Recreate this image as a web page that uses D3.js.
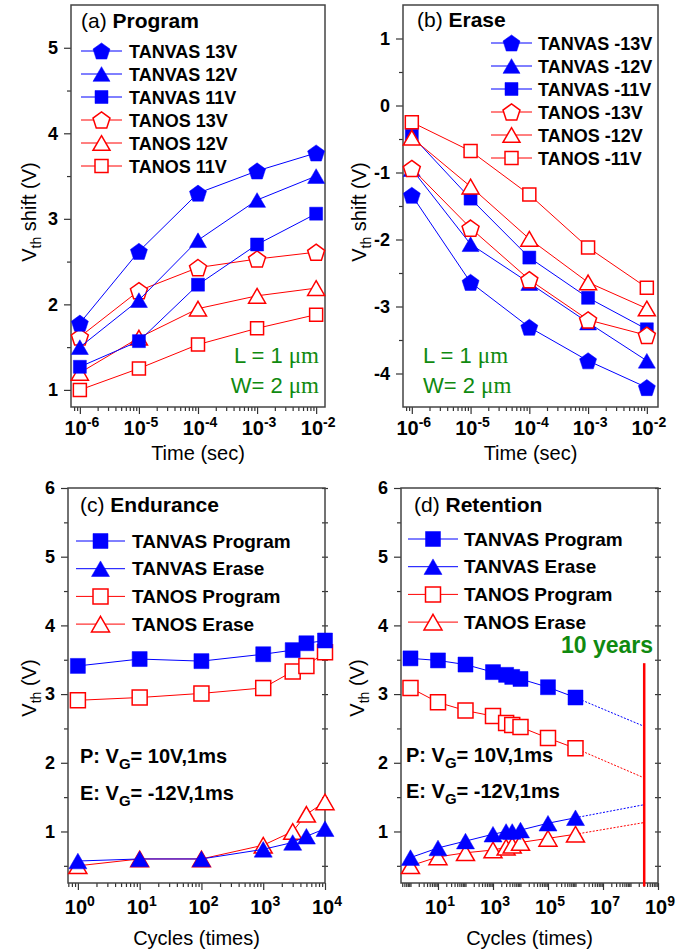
<!DOCTYPE html>
<html>
<head>
<meta charset="utf-8">
<script src="https://cdn.jsdelivr.net/npm/d3@7"></script>
<style>
  body { margin: 0; background: #fff; }
  svg { display: block; font-family: "Liberation Sans", Arial, sans-serif; }
</style>
</head>
<body>
<div id="chart"></div>
<script>
// ---- (a) Program : Vth shift vs time ----
const timeSec = [1e-6, 1e-5, 1e-4, 1e-3, 1e-2];
const progTanvas13 = [1.78, 2.62, 3.30, 3.56, 3.77];
const progTanvas12 = [1.50, 2.05, 2.75, 3.22, 3.50];
const progTanvas11 = [1.27, 1.57, 2.23, 2.70, 3.06];
const progTanos13 = [1.62, 2.16, 2.43, 2.53, 2.61];
const progTanos12 = [1.20, 1.61, 1.95, 2.10, 2.19];
const progTanos11 = [1.00, 1.25, 1.53, 1.72, 1.88];

// ---- (b) Erase ----
const eraseTanvas13 = [-1.34, -2.64, -3.31, -3.81, -4.21];
const eraseTanvas12 = [-0.95, -2.07, -2.65, -3.24, -3.81];
const eraseTanvas11 = [-0.45, -1.39, -2.27, -2.87, -3.34];
const eraseTanos13 = [-0.94, -1.83, -2.60, -3.20, -3.43];
const eraseTanos12 = [-0.48, -1.21, -1.99, -2.64, -3.03];
const eraseTanos11 = [-0.25, -0.68, -1.33, -2.12, -2.72];

// ---- (c) Endurance ----
const cycles = [1, 10, 100, 1000, 3000, 5000, 10000];
const endTanvasProg = [3.41, 3.51, 3.48, 3.58, 3.64, 3.74, 3.78];
const endTanvasErase = [0.57, 0.60, 0.60, 0.74, 0.84, 0.93, 1.04];
const endTanosProg = [2.91, 2.95, 3.01, 3.09, 3.33, 3.41, 3.61];
const endTanosErase = [0.50, 0.60, 0.60, 0.80, 1.00, 1.25, 1.43];

// ---- (d) Retention ----
const retTime = [1, 10, 100, 1000, 3000, 5000, 10000, 1e5, 1e6];
const retTanvasProg = [3.52, 3.49, 3.43, 3.32, 3.28, 3.25, 3.22, 3.10, 2.95];
const retTanvasErase = [0.62, 0.76, 0.86, 0.96, 1.00, 1.00, 1.02, 1.12, 1.20];
const retTanosProg = [3.09, 2.88, 2.76, 2.68, 2.58, 2.55, 2.52, 2.36, 2.21];
const retTanosErase = [0.50, 0.63, 0.69, 0.73, 0.77, 0.80, 0.84, 0.90, 0.96];
const tenYears = 3.15e8;
const extTanvasProg = 2.53;
const extTanvasErase = 1.39;
const extTanosProg = 1.78;
const extTanosErase = 1.13;

const BLUE = "#0000ff";
const RED = "#ff0000";
const GREEN = "#108a10";

const svg = d3.select("#chart").append("svg")
  .attr("width", 686)
  .attr("height", 951);

// marker path centred on its bounding box
function shapePath(shape, size) {
  if (shape === "square") {
    const s = size / 2;
    return `M${-s},${-s}H${s}V${s}H${-s}Z`;
  }
  if (shape === "triangle") {
    const h = size * 0.866;
    return `M0,${-h / 2}L${size / 2},${h / 2}L${-size / 2},${h / 2}Z`;
  }
  // pentagon
  const r = size / 1.902;
  const off = 0.0955 * r;
  const pts = d3.range(5).map(k => {
    const a = (-90 + 72 * k) * Math.PI / 180;
    return [r * Math.cos(a), r * Math.sin(a) + off];
  });
  return "M" + pts.map(p => p.join(",")).join("L") + "Z";
}

function drawMarker(g, cx, cy, s) {
  g.append("path")
    .attr("transform", `translate(${cx},${cy})`)
    .attr("d", shapePath(s.shape, s.size))
    .attr("fill", s.filled ? s.color : "#fff")
    .attr("stroke", s.color)
    .attr("stroke-width", s.filled ? 0.5 : 1.5);
}

function logMinors(e0, e1) {
  const out = [];
  for (let e = e0; e <= e1; e++) {
    for (let k = 2; k <= 9; k++) out.push(k * Math.pow(10, e));
  }
  return out;
}

function panel(cfg) {
  const g = svg.append("g");
  const x = d3.scaleLog().domain(cfg.xDomain).range([cfg.left, cfg.right]);
  const y = d3.scaleLinear().domain(cfg.yDomain).range([cfg.bottom, cfg.top]);
  const inX = v => v >= cfg.xDomain[0] && v <= cfg.xDomain[1];

  // x minor / major ticks
  g.append("g")
    .attr("transform", `translate(0,${cfg.bottom})`)
    .call(d3.axisBottom(x).tickValues(cfg.xMinor.filter(inX)).tickSize(4).tickFormat(""))
    .call(a => a.select(".domain").remove());
  g.append("g")
    .attr("transform", `translate(0,${cfg.bottom})`)
    .call(d3.axisBottom(x).tickValues(cfg.xMajor.filter(inX)).tickSize(7).tickFormat(""))
    .call(a => a.select(".domain").remove());

  // x tick labels 10^n
  cfg.xLabels.forEach(e => {
    const t = g.append("text")
      .attr("x", x(Math.pow(10, e)) + 2)
      .attr("y", cfg.bottom + cfg.xLabelDy)
      .attr("text-anchor", "middle")
      .attr("font-weight", "bold")
      .attr("font-size", 20);
    t.append("tspan").text("10");
    t.append("tspan").attr("dy", -8).attr("font-size", 14).text(String(e));
  });

  // y ticks
  g.append("g")
    .attr("transform", `translate(${cfg.left},0)`)
    .call(d3.axisLeft(y).tickValues(cfg.yMinor).tickSize(4).tickFormat(""))
    .call(a => a.select(".domain").remove());
  g.append("g")
    .attr("transform", `translate(${cfg.left},0)`)
    .call(d3.axisLeft(y).tickValues(cfg.yMajor).tickSize(7).tickPadding(6).tickFormat(d => String(d)))
    .call(a => a.select(".domain").remove())
    .call(a => a.selectAll("text")
      .attr("font-size", 18)
      .attr("font-weight", "bold")
      .attr("font-family", "Liberation Sans, Arial, sans-serif")
      .attr("fill", "#000"));

  if (cfg.rightTicks) {
    g.append("g")
      .attr("transform", `translate(${cfg.right - 3},0)`)
      .call(d3.axisRight(y).tickValues(cfg.yMajor.concat(cfg.yMinor)).tickSize(6).tickFormat(""))
      .call(a => a.select(".domain").remove());
  }
  g.selectAll(".tick line").attr("stroke", "#333").attr("stroke-width", 1.2);

  // frame
  g.append("rect")
    .attr("x", cfg.left).attr("y", cfg.top)
    .attr("width", cfg.right - cfg.left)
    .attr("height", cfg.bottom - cfg.top)
    .attr("fill", "none")
    .attr("stroke", "#444")
    .attr("stroke-width", 1.5);

  // axis titles
  g.append("text")
    .attr("x", (cfg.left + cfg.right) / 2)
    .attr("y", cfg.xTitleY)
    .attr("text-anchor", "middle")
    .attr("font-size", 20)
    .text(cfg.xTitle);
  const yt = g.append("text")
    .attr("transform", `translate(${cfg.yTitleX},${cfg.yTitleY}) rotate(-90)`)
    .attr("text-anchor", "middle")
    .attr("font-size", 20);
  yt.append("tspan").text("V");
  yt.append("tspan").attr("dy", 5).attr("font-size", 14).text("th");
  yt.append("tspan").attr("dy", -5).text(cfg.yTitleRest);

  // panel title
  const tt = g.append("text")
    .attr("x", cfg.titleX).attr("y", cfg.titleY)
    .attr("font-size", 21);
  tt.append("tspan").text(cfg.tag + " ");
  tt.append("tspan").attr("font-weight", "bold").text(cfg.title);

  const marks = g.append("g");
  const line = d3.line().x(d => x(d[0])).y(d => y(d[1]));

  // extension lines (dotted) drawn first
  cfg.series.forEach(s => {
    if (s.ext === undefined) return;
    const last = s.xs.length - 1;
    marks.append("path")
      .attr("d", line([[s.xs[last], s.ys[last]], [cfg.extX, s.ext]]))
      .attr("fill", "none")
      .attr("stroke", s.color)
      .attr("stroke-width", 1)
      .attr("stroke-dasharray", "2,1.5");
  });

  cfg.series.forEach(s => {
    const pts = s.xs.map((v, i) => [v, s.ys[i]]);
    marks.append("path")
      .attr("d", line(pts))
      .attr("fill", "none")
      .attr("stroke", s.color)
      .attr("stroke-width", 1);
    pts.forEach(p => drawMarker(marks, x(p[0]), y(p[1]), s));
  });

  // legend (listed in legend order)
  cfg.legend.forEach((s, i) => {
    const ry = cfg.legY + i * cfg.legStep;
    g.append("line")
      .attr("x1", cfg.legX0).attr("x2", cfg.legX1)
      .attr("y1", ry).attr("y2", ry)
      .attr("stroke", s.color).attr("stroke-width", 1);
    drawMarker(g, (cfg.legX0 + cfg.legX1) / 2, ry, s);
    g.append("text")
      .attr("x", cfg.legTx).attr("y", ry + 6.5)
      .attr("font-size", cfg.legFont)
      .attr("font-weight", "bold")
      .text(s.name);
  });

  return { g, x, y };
}

function greenDims(g, xPos, anchor) {
  [["L = 1 ", 363], ["W= 2 ", 393]].forEach(([lab, by]) => {
    const t = g.append("text")
      .attr("x", xPos).attr("y", by)
      .attr("text-anchor", anchor)
      .attr("font-size", 22)
      .attr("fill", GREEN);
    t.append("tspan").text(lab);
    t.append("tspan")
      .style("font-family", "'Liberation Serif', 'DejaVu Serif', serif")
      .attr("font-size", 23)
      .text("\u03bcm");
  });
}

function conditions(g, xPos, y1, y2) {
  [["P: V", "= 10V,1ms", y1], ["E: V", "= -12V,1ms", y2]].forEach(([a, b, by]) => {
    const t = g.append("text")
      .attr("x", xPos).attr("y", by)
      .attr("font-size", 20)
      .attr("font-weight", "bold");
    t.append("tspan").text(a);
    t.append("tspan").attr("dy", 6).attr("font-size", 15).text("G");
    t.append("tspan").attr("dy", -6).text(b);
  });
}

const sz = { pent: 17, tri: 17, sq: 13 };
const mk = (name, xs, ys, color, shape, filled, size, ext) =>
  ({ name, xs, ys, color, shape, filled, size, ext });

// ---------- (a) ----------
const aSeries = {
  v13: mk("TANVAS 13V", timeSec, progTanvas13, BLUE, "pentagon", true, sz.pent),
  v12: mk("TANVAS 12V", timeSec, progTanvas12, BLUE, "triangle", true, sz.tri),
  v11: mk("TANVAS 11V", timeSec, progTanvas11, BLUE, "square", true, sz.sq),
  o13: mk("TANOS 13V", timeSec, progTanos13, RED, "pentagon", false, sz.pent),
  o12: mk("TANOS 12V", timeSec, progTanos12, RED, "triangle", false, sz.tri),
  o11: mk("TANOS 11V", timeSec, progTanos11, RED, "square", false, sz.sq)
};
const pa = panel({
  left: 71, right: 325, top: 5, bottom: 407,
  xDomain: [Math.pow(10, -6.15), Math.pow(10, -1.85)],
  yDomain: [0.8, 5.5],
  xMajor: [1e-6, 1e-5, 1e-4, 1e-3, 1e-2], xMinor: logMinors(-7, -2), xLabels: [-6, -5, -4, -3, -2],
  xLabelDy: 28,
  yMajor: [1, 2, 3, 4, 5], yMinor: [1.5, 2.5, 3.5, 4.5],
  xTitle: "Time (sec)", xTitleY: 460,
  yTitleX: 36, yTitleY: 212, yTitleRest: " shift (V)",
  tag: "(a)", title: "Program", titleX: 81, titleY: 28,
  series: [aSeries.o11, aSeries.o12, aSeries.o13, aSeries.v11, aSeries.v12, aSeries.v13],
  legend: [aSeries.v13, aSeries.v12, aSeries.v11, aSeries.o13, aSeries.o12, aSeries.o11],
  legY: 51, legStep: 23, legX0: 81, legX1: 122, legTx: 129, legFont: 18
});
greenDims(pa.g, 319, "end");

// ---------- (b) ----------
const bSeries = {
  v13: mk("TANVAS -13V", timeSec, eraseTanvas13, BLUE, "pentagon", true, sz.pent),
  v12: mk("TANVAS -12V", timeSec, eraseTanvas12, BLUE, "triangle", true, sz.tri),
  v11: mk("TANVAS -11V", timeSec, eraseTanvas11, BLUE, "square", true, sz.sq),
  o13: mk("TANOS -13V", timeSec, eraseTanos13, RED, "pentagon", false, sz.pent),
  o12: mk("TANOS -12V", timeSec, eraseTanos12, RED, "triangle", false, sz.tri),
  o11: mk("TANOS -11V", timeSec, eraseTanos11, RED, "square", false, sz.sq)
};
const pb = panel({
  left: 403, right: 658, top: 5, bottom: 407,
  xDomain: [Math.pow(10, -6.15), Math.pow(10, -1.81)],
  yDomain: [-4.5, 1.5],
  xMajor: [1e-6, 1e-5, 1e-4, 1e-3, 1e-2], xMinor: logMinors(-7, -2), xLabels: [-6, -5, -4, -3, -2],
  xLabelDy: 28,
  yMajor: [-4, -3, -2, -1, 0, 1], yMinor: [-3.5, -2.5, -1.5, -0.5, 0.5],
  xTitle: "Time (sec)", xTitleY: 460,
  yTitleX: 366, yTitleY: 212, yTitleRest: " shift (V)",
  tag: "(b)", title: "Erase", titleX: 417, titleY: 27,
  series: [bSeries.v13, bSeries.v12, bSeries.v11, bSeries.o11, bSeries.o12, bSeries.o13],
  legend: [bSeries.v13, bSeries.v12, bSeries.v11, bSeries.o13, bSeries.o12, bSeries.o11],
  legY: 43, legStep: 23, legX0: 491, legX1: 532, legTx: 538, legFont: 18
});
greenDims(pb.g, 423, "start");

// ---------- (c) ----------
const cSeries = {
  vp: mk("TANVAS Program", cycles, endTanvasProg, BLUE, "square", true, 15),
  ve: mk("TANVAS Erase", cycles, endTanvasErase, BLUE, "triangle", true, 18),
  op: mk("TANOS Program", cycles, endTanosProg, RED, "square", false, 15),
  oe: mk("TANOS Erase", cycles, endTanosErase, RED, "triangle", false, 18)
};
const pc = panel({
  left: 68, right: 325, top: 488, bottom: 883,
  xDomain: [Math.pow(10, -0.16), 1e4],
  yDomain: [0.25, 6],
  xMajor: [1, 10, 100, 1000, 10000], xMinor: logMinors(-1, 3), xLabels: [0, 1, 2, 3, 4],
  xLabelDy: 31,
  yMajor: [1, 2, 3, 4, 5, 6], yMinor: [0.5, 1.5, 2.5, 3.5, 4.5, 5.5],
  rightTicks: true,
  xTitle: "Cycles (times)", xTitleY: 945,
  yTitleX: 36, yTitleY: 688, yTitleRest: " (V)",
  tag: "(c)", title: "Endurance", titleX: 80, titleY: 512,
  series: [cSeries.op, cSeries.oe, cSeries.vp, cSeries.ve],
  legend: [cSeries.vp, cSeries.ve, cSeries.op, cSeries.oe],
  legY: 541, legStep: 27.7, legX0: 76, legX1: 125, legTx: 132, legFont: 19
});
conditions(pc.g, 80, 763, 800);

// ---------- (d) ----------
const dSeries = {
  vp: mk("TANVAS Program", retTime, retTanvasProg, BLUE, "square", true, 15, extTanvasProg),
  ve: mk("TANVAS Erase", retTime, retTanvasErase, BLUE, "triangle", true, 18, extTanvasErase),
  op: mk("TANOS Program", retTime, retTanosProg, RED, "square", false, 15, extTanosProg),
  oe: mk("TANOS Erase", retTime, retTanosErase, RED, "triangle", false, 18, extTanosErase)
};
const dEvenDecades = [1, 100, 1e4, 1e6, 1e8];
const pd = panel({
  left: 401, right: 658, top: 488, bottom: 883,
  xDomain: [Math.pow(10, -0.345), 1e9],
  yDomain: [0.25, 6],
  xMajor: [10, 1000, 1e5, 1e7, 1e9], xMinor: logMinors(-1, 8).concat(dEvenDecades), xLabels: [1, 3, 5, 7, 9],
  xLabelDy: 31,
  yMajor: [1, 2, 3, 4, 5, 6], yMinor: [0.5, 1.5, 2.5, 3.5, 4.5, 5.5],
  rightTicks: true,
  xTitle: "Cycles (times)", xTitleY: 945,
  yTitleX: 364, yTitleY: 688, yTitleRest: " (V)",
  tag: "(d)", title: "Retention", titleX: 414, titleY: 512,
  extX: tenYears,
  series: [dSeries.op, dSeries.oe, dSeries.vp, dSeries.ve],
  legend: [dSeries.vp, dSeries.ve, dSeries.op, dSeries.oe],
  legY: 539, legStep: 27.7, legX0: 408, legX1: 458, legTx: 464, legFont: 19
});
conditions(pd.g, 406, 762, 798);

// 10 years marker
pd.g.append("line")
  .attr("x1", pd.x(tenYears)).attr("x2", pd.x(tenYears))
  .attr("y1", pd.y(3.45)).attr("y2", pd.y(0.2))
  .attr("stroke", RED).attr("stroke-width", 2.5);
pd.g.append("text")
  .attr("x", 653).attr("y", 653)
  .attr("text-anchor", "end")
  .attr("font-size", 23)
  .attr("font-weight", "bold")
  .attr("fill", GREEN)
  .text("10 years");
</script>
</body>
</html>
